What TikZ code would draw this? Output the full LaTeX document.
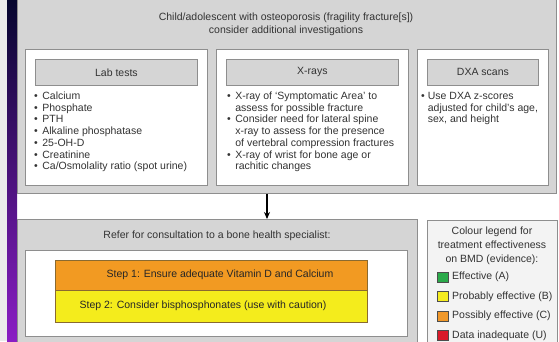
\documentclass[tikz,border=0pt]{standalone}
\usepackage{fontspec}
\setmainfont{Liberation Sans}
\usetikzlibrary{arrows.meta}
\definecolor{panelgray}{HTML}{D5D5D5}
\definecolor{edgegray}{HTML}{8E8E8E}
\definecolor{inkgray}{HTML}{333333}
\definecolor{steporange}{HTML}{F29A22}
\definecolor{stepyellow}{HTML}{F4EC1C}
\definecolor{stepedge}{HTML}{8A6A30}
\definecolor{legendfill}{HTML}{F3F3F3}
\definecolor{effgreen}{HTML}{2BAA4A}
\definecolor{effyellow}{HTML}{F5EC20}
\definecolor{efforange}{HTML}{F0982A}
\definecolor{effred}{HTML}{D91A2A}
\definecolor{stripnavy}{HTML}{06062E}
\definecolor{stripblue}{HTML}{1414C8}
\definecolor{strippurple}{HTML}{8A1EC4}
\tikzset{
  panel/.style={draw=edgegray, fill=panelgray, line width=0.8pt, anchor=north west, inner sep=0pt},
  whitebox/.style={draw=edgegray, fill=white, line width=0.8pt, anchor=north west, inner sep=0pt},
  headbox/.style={draw=edgegray, fill=panelgray, line width=0.8pt, anchor=north west, inner sep=0pt, text=inkgray},
  stepbox/.style={draw=stepedge, line width=0.6pt, anchor=north west, inner sep=0pt},
  txt/.style={inner sep=0pt, text=inkgray, font=\fontsize{10.5}{11.7}\selectfont},
  legsq/.style={draw=black!70, line width=0.5pt, minimum width=10.5pt, minimum height=10pt, inner sep=0pt},
  flowarrow/.style={-{Stealth[length=7pt,width=6pt]}, line width=1.1pt, black}
}
\begin{document}
\begin{tikzpicture}[x=1pt,y=-1pt]
\useasboundingbox (0,0) rectangle (559,341);
\clip (0,0) rectangle (559,341);
\fill[white] (0,0) rectangle (559,341);
% left strip
\fill[black!8] (0,0) rectangle (7,341);
\shade[top color=stripnavy, middle color=stripblue, bottom color=strippurple, shading angle=0] (7,0) rectangle (17,341);
% top panel
\node[panel, minimum width=539pt, minimum height=196pt] (top) at (17,-3) {};
\node[txt, align=center, font=\fontsize{10.5}{13}\selectfont] (title) at (286,24.5)
  {Child/adolescent with osteoporosis (fragility fracture[s])\\consider additional investigations};
% lab tests
\node[whitebox, minimum width=182pt, minimum height=136pt] (labbox) at (25,49) {};
\node[headbox, minimum width=162pt, minimum height=26pt, font=\fontsize{10.5}{12}\selectfont] (labhead) at (35,59) {Lab tests};
\node[txt, anchor=base west] (lablist) at (34,99.5) {\begin{tabular}[t]{@{}l@{\hspace{4.5pt}}l@{}}
\textbullet & Calcium\\
\textbullet & Phosphate\\
\textbullet & PTH\\
\textbullet & Alkaline phosphatase\\
\textbullet & 25-OH-D\\
\textbullet & Creatinine\\
\textbullet & Ca/Osmolality ratio (spot urine)
\end{tabular}};
% x-rays
\node[whitebox, minimum width=192pt, minimum height=136pt] (xbox) at (216,49) {};
\node[headbox, minimum width=172pt, minimum height=26pt, font=\fontsize{10.5}{12}\selectfont] (xhead) at (226,59) {X-rays};
\node[txt, anchor=base west] (xlist) at (227,99.5) {\begin{tabular}[t]{@{}l@{\hspace{4.5pt}}l@{}}
\textbullet & X-ray of ‘Symptomatic Area’ to\\
 & assess for possible fracture\\
\textbullet & Consider need for lateral spine\\
 & x-ray to assess for the presence\\
 & of vertebral compression fractures\\
\textbullet & X-ray of wrist for bone age or\\
 & rachitic changes
\end{tabular}};
% dxa
\node[whitebox, minimum width=131pt, minimum height=136pt] (dbox) at (417,49) {};
\node[headbox, minimum width=111pt, minimum height=26pt, font=\fontsize{10.5}{12}\selectfont] (dhead) at (427,59) {DXA scans};
\node[txt, anchor=base west] (dlist) at (421,99.5) {\begin{tabular}[t]{@{}l@{\hspace{3pt}}l@{}}
\textbullet & Use DXA z-scores\\
 & adjusted for child's age,\\
 & sex, and height
\end{tabular}};
% bottom panel
\node[panel, minimum width=400pt, minimum height=130pt] (bottom) at (17,219) {};
\node[txt] (refer) at (217,236) {Refer for consultation to a bone health specialist:};
\node[whitebox, minimum width=382pt, minimum height=86pt] (bwhite) at (25,250) {};
\node[stepbox, fill=steporange, minimum width=312pt, minimum height=30pt] (step1) at (55,260) {};
\node[stepbox, fill=stepyellow, minimum width=312pt, minimum height=32pt] (step2) at (55,290) {};
\node[txt, text=black!85] (step1t) at (220,275) {Step 1: Ensure adequate Vitamin D and Calcium};
\node[txt, text=black!85] (step2t) at (203,306) {Step 2: Consider bisphosphonates (use with caution)};
% arrow
\coordinate (ax) at (267,0);
\draw[flowarrow] (top.south -| ax) -- (bottom.north -| ax);
% legend
\node[draw=edgegray, fill=legendfill, line width=0.8pt, anchor=north west, inner sep=0pt, minimum width=130pt, minimum height=130pt] (legend) at (427,220) {};
\node[txt, align=center, font=\fontsize{10.5}{14}\selectfont] (legtitle) at (492,246) {Colour legend for\\treatment effectiveness\\on BMD (evidence):};
\node[legsq, fill=effgreen] (sqA) at (442.5,277) {};
\node[legsq, fill=effyellow] (sqB) at (442.5,296.5) {};
\node[legsq, fill=efforange] (sqC) at (442.5,316) {};
\node[legsq, fill=effred] (sqU) at (442.5,335.5) {};
\node[txt, anchor=west] (legA) at (452,277) {Effective (A)};
\node[txt, anchor=west] (legB) at (452,296.5) {Probably effective (B)};
\node[txt, anchor=west] (legC) at (452,316) {Possibly effective (C)};
\node[txt, anchor=west] (legU) at (452,335.5) {Data inadequate (U)};
\end{tikzpicture}
\end{document}
